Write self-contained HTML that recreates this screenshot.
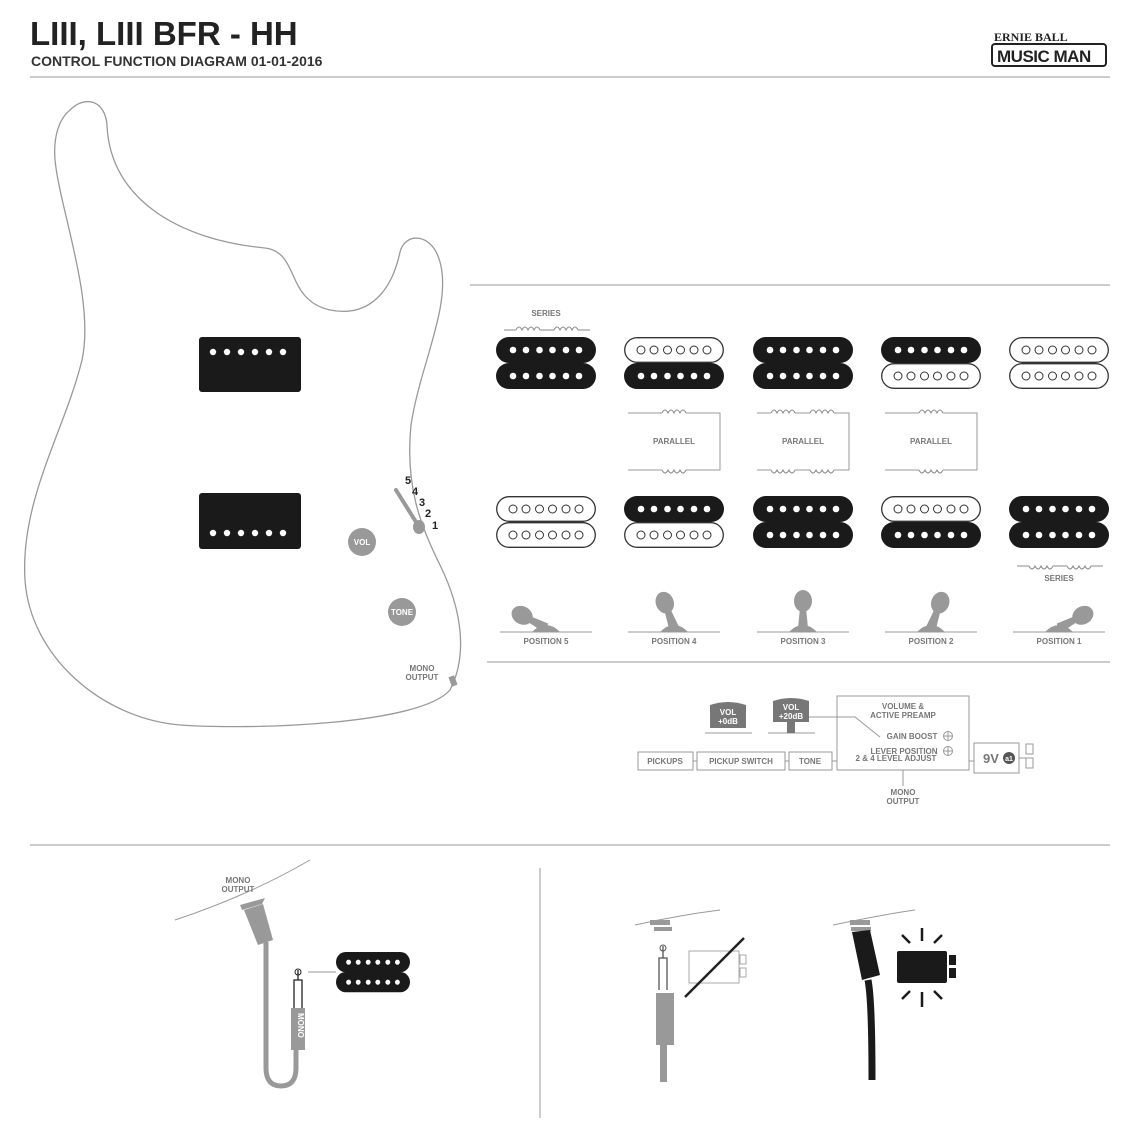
<!DOCTYPE html>
<html><head><meta charset="utf-8"><style>
html,body{margin:0;padding:0;background:#fff;}
svg{display:block;font-family:"Liberation Sans",sans-serif;}
.g{fill:#777;font-weight:bold;}
</style></head><body>
<svg width="1140" height="1140" viewBox="0 0 1140 1140" xmlns="http://www.w3.org/2000/svg">
<defs>
<g id="cB"><rect x="0" y="0" width="100" height="26" rx="13" fill="#1a1a1a"/>
<g fill="#fff"><circle cx="17" cy="13" r="3.3"/><circle cx="30" cy="13" r="3.3"/><circle cx="43.5" cy="13" r="3.3"/><circle cx="56.5" cy="13" r="3.3"/><circle cx="70" cy="13" r="3.3"/><circle cx="83" cy="13" r="3.3"/></g></g>
<g id="cW"><rect x="0.7" y="0.7" width="98.6" height="24.6" rx="12.3" fill="#fff" stroke="#333" stroke-width="1.3"/>
<g fill="none" stroke="#333" stroke-width="1"><circle cx="17" cy="13" r="4"/><circle cx="30" cy="13" r="4"/><circle cx="43.5" cy="13" r="4"/><circle cx="56.5" cy="13" r="4"/><circle cx="70" cy="13" r="4"/><circle cx="83" cy="13" r="4"/></g></g>
<g id="coil" fill="none" stroke="#888" stroke-width="1"><path d="M0,0 q3,-6 6,0 q3,-6 6,0 q3,-6 6,0 q3,-6 6,0"/></g>
<g id="lever"><path d="M-5,0 L-3,-20 L3,-20 L5,0 Z" fill="#999"/><ellipse cx="0" cy="-27" rx="9" ry="11" fill="#999"/></g>
</defs>

<!-- header -->
<text x="30" y="45" font-size="33" font-weight="bold" fill="#222">LIII, LIII BFR - HH</text>
<text x="31" y="66" font-size="14" font-weight="bold" fill="#333">CONTROL FUNCTION DIAGRAM 01-01-2016</text>
<rect x="992" y="44" width="114" height="22" rx="3" fill="#fff" stroke="#222" stroke-width="2"/>
<text x="997" y="62" font-size="17" font-weight="bold" fill="#222" letter-spacing="-0.5">MUSIC MAN</text>
<text x="994" y="41" font-size="12" font-family="Liberation Serif" font-weight="bold" fill="#222">ERNIE BALL</text>
<line x1="30" y1="77" x2="1110" y2="77" stroke="#999" stroke-width="1"/>

<!-- body -->
<path d="M70,110 C85,95 105,100 107,125 C110,200 180,240 265,248 C300,252 285,300 330,310 C370,318 392,290 400,252 C405,232 432,232 440,262 C452,305 420,365 411,425 C405,485 420,525 440,565 C462,610 468,655 450,690 C420,725 250,730 180,725 C100,718 30,655 25,580 C20,500 65,430 82,360 C95,300 60,210 55,160 C53,135 60,118 70,110 Z" fill="none" stroke="#999" stroke-width="1.3"/>
<rect x="199" y="337" width="102" height="55" rx="3" fill="#1a1a1a"/>
<g fill="#fff"><circle cx="213" cy="352" r="3.2"/><circle cx="227" cy="352" r="3.2"/><circle cx="241" cy="352" r="3.2"/><circle cx="255" cy="352" r="3.2"/><circle cx="269" cy="352" r="3.2"/><circle cx="283" cy="352" r="3.2"/></g>
<rect x="199" y="493" width="102" height="56" rx="3" fill="#1a1a1a"/>
<g fill="#fff"><circle cx="213" cy="533" r="3.2"/><circle cx="227" cy="533" r="3.2"/><circle cx="241" cy="533" r="3.2"/><circle cx="255" cy="533" r="3.2"/><circle cx="269" cy="533" r="3.2"/><circle cx="283" cy="533" r="3.2"/></g>
<circle cx="362" cy="542" r="14" fill="#999"/><text x="362" y="545" font-size="8" font-weight="bold" fill="#fff" text-anchor="middle">VOL</text>
<circle cx="402" cy="612" r="14" fill="#999"/><text x="402" y="615" font-size="8" font-weight="bold" fill="#fff" text-anchor="middle">TONE</text>
<path d="M396,490 L416,522" stroke="#999" stroke-width="4" stroke-linecap="round"/><ellipse cx="419" cy="527" rx="6" ry="7" fill="#999"/>
<g font-size="11" font-weight="bold" fill="#222"><text x="405" y="484">5</text><text x="412" y="495">4</text><text x="419" y="506">3</text><text x="425" y="517">2</text><text x="432" y="529">1</text></g>
<text x="422" y="671" font-size="8" class="g" text-anchor="middle">MONO</text><text x="422" y="680" font-size="8" class="g" text-anchor="middle">OUTPUT</text>
<rect x="450" y="676" width="6" height="10" fill="#999" transform="rotate(-20 453 681)"/>

<!-- pickup section -->
<line x1="470" y1="285" x2="1110" y2="285" stroke="#999"/>
<text x="546" y="316" font-size="8" class="g" text-anchor="middle">SERIES</text>
<use href="#coil" x="516" y="330"/><use href="#coil" x="554" y="330"/>
<path d="M504,330 H516 M540,330 H554 M578,330 H590" stroke="#888"/>
<text x="1059" y="581" font-size="8" class="g" text-anchor="middle">SERIES</text>
<use href="#coil" x="1029" y="566" transform="rotate(180 1041 566)"/><use href="#coil" x="1067" y="566" transform="rotate(180 1079 566)"/>
<path d="M1017,566 H1029 M1053,566 H1067 M1091,566 H1103" stroke="#888"/>

<!-- top row -->
<use href="#cB" x="496" y="337"/><use href="#cB" x="496" y="363"/>
<use href="#cW" x="624" y="337"/><use href="#cB" x="624" y="363"/>
<use href="#cB" x="753" y="337"/><use href="#cB" x="753" y="363"/>
<use href="#cB" x="881" y="337"/><use href="#cW" x="881" y="363"/>
<use href="#cW" x="1009" y="337"/><use href="#cW" x="1009" y="363"/>
<!-- bottom row -->
<use href="#cW" x="496" y="496"/><use href="#cW" x="496" y="522"/>
<use href="#cB" x="624" y="496"/><use href="#cW" x="624" y="522"/>
<use href="#cB" x="753" y="496"/><use href="#cB" x="753" y="522"/>
<use href="#cW" x="881" y="496"/><use href="#cB" x="881" y="522"/>
<use href="#cB" x="1009" y="496"/><use href="#cB" x="1009" y="522"/>

<!-- parallel boxes -->
<g fill="none" stroke="#999" stroke-width="1">
<path d="M628,413 H662 M686,413 H720 V470 H686 M662,470 H628 Z"/>
<path d="M757,413 H771 M795,413 H810 M834,413 H849 V470 H834 M810,470 H795 M771,470 H757 Z"/>
<path d="M885,413 H919 M943,413 H977 V470 H943 M919,470 H885 Z"/>
</g>
<use href="#coil" x="662" y="413"/><use href="#coil" x="662" y="470" transform="rotate(180 674 470)"/>
<use href="#coil" x="771" y="413"/><use href="#coil" x="810" y="413"/>
<use href="#coil" x="771" y="470" transform="rotate(180 783 470)"/><use href="#coil" x="810" y="470" transform="rotate(180 822 470)"/>
<use href="#coil" x="919" y="413"/><use href="#coil" x="919" y="470" transform="rotate(180 931 470)"/>
<g font-size="8" class="g" text-anchor="middle"><text x="674" y="444">PARALLEL</text><text x="803" y="444">PARALLEL</text><text x="931" y="444">PARALLEL</text></g>

<!-- levers -->
<g stroke="#999" stroke-width="1"><line x1="500" y1="632" x2="592" y2="632"/><line x1="628" y1="632" x2="720" y2="632"/><line x1="757" y1="632" x2="849" y2="632"/><line x1="885" y1="632" x2="977" y2="632"/><line x1="1013" y1="632" x2="1105" y2="632"/></g>
<g fill="#999"><path d="M532,632 q14,-14 28,0Z"/><path d="M660,632 q14,-14 28,0Z"/><path d="M789,632 q14,-14 28,0Z"/><path d="M917,632 q14,-14 28,0Z"/><path d="M1045,632 q14,-14 28,0Z"/></g>
<use href="#lever" transform="translate(546,628) rotate(-62)"/>
<use href="#lever" transform="translate(674,628) rotate(-20)"/>
<use href="#lever" transform="translate(803,628)"/>
<use href="#lever" transform="translate(931,628) rotate(20)"/>
<use href="#lever" transform="translate(1059,628) rotate(62)"/>
<g font-size="8" class="g" text-anchor="middle"><text x="546" y="644">POSITION 5</text><text x="674" y="644">POSITION 4</text><text x="803" y="644">POSITION 3</text><text x="931" y="644">POSITION 2</text><text x="1059" y="644">POSITION 1</text></g>
<line x1="487" y1="662" x2="1110" y2="662" stroke="#999"/>

<!-- signal chain -->
<g fill="none" stroke="#999" stroke-width="1">
<rect x="638" y="752" width="55" height="18"/><rect x="697" y="752" width="88" height="18"/><rect x="789" y="752" width="43" height="18"/>
<rect x="837" y="696" width="132" height="74"/><rect x="974" y="743" width="45" height="30"/>
<rect x="1026" y="744" width="7" height="10"/><rect x="1026" y="758" width="7" height="10"/>
<path d="M693,761 H697 M785,761 H789 M832,761 H837 M969,761 H974 M1019,758 H1026 M903,770 V786 M807,717 H855 L880,737"/>
<circle cx="948" cy="736" r="4.5"/><path d="M943.5,736 H952.5 M948,731.5 V740.5"/>
<circle cx="948" cy="751" r="4.5"/><path d="M943.5,751 H952.5 M948,746.5 V755.5"/>
</g>
<line x1="705" y1="733" x2="752" y2="733" stroke="#999"/><line x1="768" y1="733" x2="815" y2="733" stroke="#999"/>
<path d="M710,705 q18,-6 36,0 V728 H710 Z" fill="#777"/>
<path d="M773,701 q18,-6 36,0 V722 H795 V733 H787 V722 H773 Z" fill="#777"/>
<g font-size="8" font-weight="bold" text-anchor="middle" fill="#fff"><text x="728" y="715">VOL</text><text x="728" y="724">+0dB</text><text x="791" y="710">VOL</text><text x="791" y="719">+20dB</text></g>
<g font-size="8" class="g" text-anchor="middle">
<text x="665" y="764">PICKUPS</text><text x="741" y="764">PICKUP SWITCH</text><text x="810" y="764">TONE</text>
<text x="903" y="709">VOLUME &amp;</text><text x="903" y="718">ACTIVE PREAMP</text>
<text x="912" y="739">GAIN BOOST</text><text x="904" y="754">LEVER POSITION</text><text x="896" y="761">2 &amp; 4 LEVEL ADJUST</text>
<text x="903" y="795">MONO</text><text x="903" y="804">OUTPUT</text></g>
<text x="983" y="763" font-size="13" font-weight="bold" fill="#777">9V</text>
<circle cx="1009" cy="758" r="6" fill="#555"/><text x="1009" y="761" font-size="7" fill="#fff" text-anchor="middle" font-weight="bold">a1</text>

<!-- bottom -->
<line x1="30" y1="845" x2="1110" y2="845" stroke="#999"/>
<line x1="540" y1="868" x2="540" y2="1118" stroke="#999"/>
<path d="M175,920 Q250,895 310,860" fill="none" stroke="#999"/>
<text x="238" y="883" font-size="8" class="g" text-anchor="middle">MONO</text><text x="238" y="892" font-size="8" class="g" text-anchor="middle">OUTPUT</text>
<path d="M240,905 L265,898 L262,904 L242,910Z" fill="#999"/>
<path d="M244,910 L263,904 L273,940 L258,945Z" fill="#999"/>
<path d="M266,942 V1068 q0,18 15,18 q15,0 15,-18 V1050" fill="none" stroke="#999" stroke-width="5"/>
<rect x="291" y="1008" width="14" height="42" fill="#999"/>
<text x="298" y="1013" font-size="8" font-weight="bold" fill="#fff" transform="rotate(90 298 1013)">MONO</text>
<path d="M294,1008 V980 H302 V1008 M298,980 V970" fill="none" stroke="#222" stroke-width="1.3"/><circle cx="298" cy="972" r="3" fill="none" stroke="#222"/>
<line x1="308" y1="972" x2="336" y2="972" stroke="#999"/>
<use href="#cB" transform="translate(336,952) scale(0.74,0.78)"/>
<use href="#cB" transform="translate(336,972) scale(0.74,0.78)"/>
<!-- middle jack -->
<path d="M635,925 Q680,915 720,910" fill="none" stroke="#999"/>
<rect x="650" y="920" width="20" height="5" fill="#999"/><rect x="654" y="927" width="18" height="4" fill="#999"/>
<path d="M659,990 V958 H667 V990 M663,958 V946" fill="none" stroke="#555" stroke-width="1.3"/><circle cx="663" cy="948" r="3" fill="none" stroke="#555"/>
<rect x="656" y="993" width="18" height="52" fill="#999"/><rect x="660" y="1045" width="7" height="37" fill="#999"/>
<rect x="689" y="951" width="50" height="32" fill="none" stroke="#aaa"/><rect x="740" y="955" width="6" height="9" fill="none" stroke="#aaa"/><rect x="740" y="968" width="6" height="9" fill="none" stroke="#aaa"/>
<line x1="685" y1="997" x2="744" y2="938" stroke="#222" stroke-width="2.5"/>
<!-- right jack -->
<path d="M833,925 Q880,915 915,910" fill="none" stroke="#999"/>
<rect x="850" y="920" width="20" height="5" fill="#999"/><rect x="851" y="927" width="20" height="4" fill="#999"/>
<path d="M852,932 L870,930 L880,975 L862,980Z" fill="#1a1a1a"/>
<path d="M868,980 Q872,1000 872,1080" fill="none" stroke="#1a1a1a" stroke-width="7"/>
<rect x="897" y="951" width="50" height="32" rx="2" fill="#1a1a1a"/><rect x="949" y="955" width="7" height="10" fill="#1a1a1a"/><rect x="949" y="968" width="7" height="10" fill="#1a1a1a"/>
<g stroke="#1a1a1a" stroke-width="2.5"><line x1="922" y1="928" x2="922" y2="941"/><line x1="902" y1="935" x2="910" y2="943"/><line x1="942" y1="935" x2="934" y2="943"/><line x1="922" y1="992" x2="922" y2="1007"/><line x1="902" y1="999" x2="910" y2="991"/><line x1="942" y1="999" x2="934" y2="991"/></g>
</svg>
</body></html>
